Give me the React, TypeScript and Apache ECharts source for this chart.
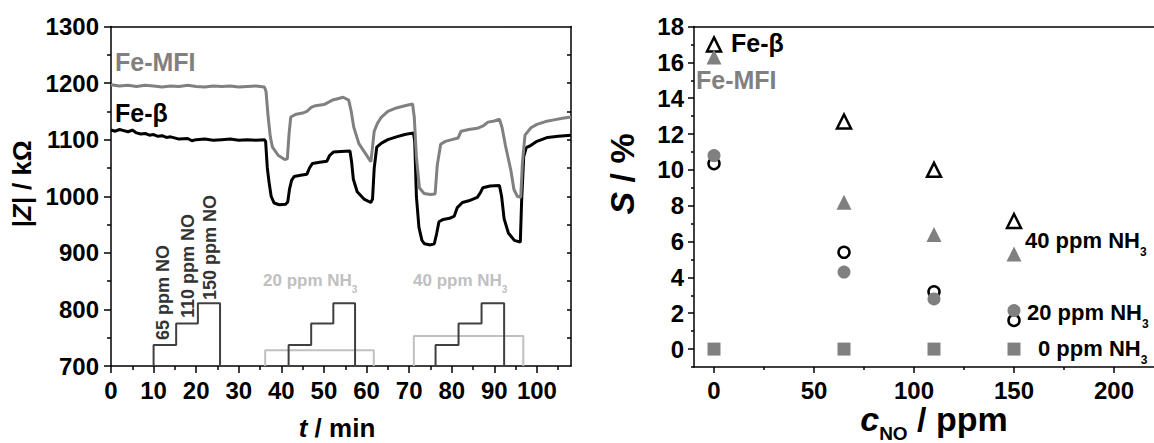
import React, { useEffect, useRef } from "react";
import * as echarts from "echarts";

const FAM = "'Liberation Sans', Arial, sans-serif";

// ---------- left panel: impedance vs time ----------
const feMfiCurve: [number, number][] = [
  [0, 1197], [2, 1195], [4, 1196], [6, 1194], [8, 1196], [10, 1195], [12, 1193], [14, 1195],
  [16, 1194], [18, 1196], [20, 1194], [22, 1193], [24, 1195], [26, 1194], [28, 1195], [30, 1193],
  [32, 1194], [34, 1195], [36, 1193], [36.4, 1185], [36.9, 1140], [37.4, 1105], [37.9, 1087],
  [39.3, 1072], [40.8, 1065], [41.4, 1066], [41.8, 1110], [42.2, 1140], [43.5, 1145], [45, 1147],
  [46, 1150], [47, 1157], [48, 1160], [50, 1162], [51, 1166], [52, 1170], [53, 1172], [54.5, 1175],
  [55.8, 1170], [56.4, 1150], [57, 1122], [58.2, 1093], [59.8, 1075], [61, 1061], [61.3, 1080],
  [61.8, 1115], [62.5, 1128], [63.5, 1140], [65, 1150], [67, 1156], [69, 1160], [70.8, 1163],
  [71.2, 1140], [71.7, 1070], [72.4, 1015], [73.5, 1005], [75, 1003], [76.1, 1004], [76.6, 1055],
  [77.4, 1092], [78.5, 1097], [80, 1100], [81.5, 1103], [82.2, 1115], [84, 1118], [86, 1120],
  [87.5, 1125], [88.5, 1131], [90, 1133], [91.2, 1136], [91.8, 1122], [92.6, 1090], [93.9, 1045],
  [94.6, 1012], [95.4, 1000], [96.2, 998], [96.6, 1060], [97.2, 1108], [98.6, 1121], [100, 1127],
  [102, 1132], [104, 1135], [106, 1138], [108, 1140],
];

const feBetaCurve: [number, number][] = [
  [0, 1117], [1, 1115], [2, 1118], [3, 1116], [4, 1114], [5, 1117], [6, 1112], [7, 1110],
  [8, 1111], [9, 1108], [10, 1109], [11, 1106], [12, 1107], [13, 1104], [14, 1105], [16, 1101],
  [18, 1102], [19, 1098], [20, 1100], [22, 1101], [24, 1099], [26, 1100], [28, 1101], [30, 1099],
  [32, 1100], [34, 1099], [36, 1100], [36.3, 1097], [36.7, 1050], [37.1, 1025], [37.6, 1000],
  [38.3, 988], [39.5, 985], [41, 986], [41.5, 990], [41.9, 1012], [42.4, 1028], [43, 1035],
  [44.5, 1037], [46, 1039], [46.6, 1050], [47.3, 1058], [49, 1060], [50.7, 1062], [51.3, 1072],
  [52.2, 1078], [54, 1079], [56.1, 1080], [56.5, 1060], [56.9, 1030], [57.8, 1008], [59.4, 995],
  [61, 989], [61.4, 995], [61.8, 1050], [62.4, 1087], [63.5, 1094], [65, 1100], [67, 1105],
  [69, 1109], [71, 1112], [71.3, 1098], [71.7, 1000], [72.3, 945], [73, 922], [73.6, 916],
  [75, 914], [75.9, 916], [76.4, 932], [77, 955], [78, 959], [79.5, 961], [80.6, 965], [81.3, 980],
  [82.5, 989], [84, 992], [86, 998], [86.7, 1006], [87.3, 1015], [89, 1018], [91.2, 1019],
  [91.7, 1000], [92.3, 960], [93.3, 935], [94.7, 922], [96.1, 919], [96.4, 990], [96.9, 1070],
  [97.5, 1086], [98.6, 1090], [100, 1097], [102.5, 1104], [105, 1106], [108, 1108],
];

const profileBase = 700;
const noLevels = [737, 775, 811];
const noPulse1 = [10, 15.3, 20.4, 25.6];
const noPulse2 = [41.7, 47, 52.2, 57.3];
const noPulse3 = [76.2, 81.6, 87, 92.3];
const nh3Level20 = 728;
const nh3Pulse20 = [36.2, 61.7];
const nh3Level40 = 753;
const nh3Pulse40 = [71.1, 96.8];

const tTicks = [0, 10, 20, 30, 40, 50, 60, 70, 80, 90, 100];
const tMinor = [5, 15, 25, 35, 45, 55, 65, 75, 85, 95, 105];
const zTicks = [700, 800, 900, 1000, 1100, 1200, 1300];
const zMinor = [750, 850, 950, 1050, 1150, 1250];
const zAll = [750, 800, 850, 900, 950, 1000, 1050, 1100, 1150, 1200, 1250];

// ---------- right panel: sensitivity vs NO ----------
const cNo = [0, 65, 110, 150];
const feBeta40 = [17.0, 12.7, 10.0, 7.15];
const feBeta20 = [10.35, 5.4, 3.2, 1.6];
const feBeta0 = [0, 0, 0, 0];
const feMfi40 = [16.3, 8.2, 6.4, 5.3];
const feMfi20 = [10.8, 4.3, 2.8, 2.15];
const feMfi0 = [0, 0, 0, 0];

const cTicks = [0, 50, 100, 150, 200];
const cMinor = [25, 75, 125, 175];
const sTicks = [0, 2, 4, 6, 8, 10, 12, 14, 16, 18];
const sMinor = [-1, 1, 3, 5, 7, 9, 11, 13, 15, 17];

const GRAY = "#808080";
const DARK = "#404040";
const LIGHT = "#c0c0c0";

function staircase(times: number[], levels: number[]): [number, number][] {
  const pts: [number, number][] = [[times[0], profileBase]];
  levels.forEach((lv, i) => {
    pts.push([times[i], lv]);
    pts.push([times[i + 1], lv]);
  });
  pts.push([times[times.length - 1], profileBase]);
  return pts;
}

let measureCtx: CanvasRenderingContext2D | null = null;
function measure(s: string, font: string) {
  if (!measureCtx) measureCtx = document.createElement("canvas").getContext("2d");
  measureCtx!.font = font;
  return measureCtx!.measureText(s).width;
}

type Part = { t: string; it?: boolean; sub?: boolean };
function label(
  parts: Part[],
  o: { x: number; y: number; size: number; subSize?: number; subDy?: number; color: string; rot?: number; center?: boolean }
) {
  const fontOf = (p: Part) => `${p.it ? "italic " : ""}bold ${p.sub ? o.subSize || 10 : o.size}px ${FAM}`;
  const widths = parts.map((p) => measure(p.t, fontOf(p)));
  const total = widths.reduce((a, b) => a + b, 0);
  let cx = o.center ? -total / 2 : 0;
  const children = parts.map((p, i) => {
    const el = {
      type: "text",
      x: cx,
      y: p.sub ? o.subDy || 0 : 0,
      style: {
        text: p.t,
        font: fontOf(p),
        fill: o.color,
        textAlign: "left",
        textVerticalAlign: "middle",
        align: "left",
        verticalAlign: "middle",
      },
    };
    cx += widths[i];
    return el;
  });
  return { type: "group", x: o.x, y: o.y, rotation: o.rot || 0, children };
}

const fmt = (v: number) => String(v);
const tickLabel = { fontFamily: FAM, fontWeight: "bold" as const, fontSize: 24, color: "#000", formatter: fmt };
const axLine = { show: true, onZero: false, lineStyle: { color: "#000", width: 1.5 } };
const noLine = { show: false, onZero: false };
const tickStyle = { color: "#000", width: 1.5 };

export default function App() {
  const ref = useRef<HTMLDivElement>(null);
  useEffect(() => {
    document.body.style.margin = "0";
    const chart = echarts.init(ref.current!, undefined, { renderer: "svg" });

    const lineSeries = (data: [number, number][], color: string, width: number, z = 2) => ({
      type: "line",
      xAxisIndex: 0,
      yAxisIndex: 0,
      data,
      showSymbol: false,
      symbol: "none",
      lineStyle: { color, width },
      z,
      silent: true,
    });

    const scatter = (
      vals: number[],
      symbol: string,
      size: number,
      fill: string,
      border: string,
      bw: number,
      z: number
    ) => ({
      type: "scatter",
      xAxisIndex: 3,
      yAxisIndex: 3,
      data: cNo.map((c, i) => [c, vals[i]]),
      symbol,
      symbolSize: size,
      itemStyle: { color: fill, borderColor: border, borderWidth: bw, opacity: 1 },
      z,
      silent: true,
    });

    chart.setOption({
      animation: false,
      backgroundColor: "#fff",
      grid: [
        { left: 111, top: 26.5, width: 460, height: 339.5 },
        { left: 694, top: 26.5, width: 462, height: 340.5 },
      ],
      xAxis: [
        {
          gridIndex: 0, type: "value", min: 0, max: 108, position: "bottom",
          axisLine: axLine, splitLine: { show: false },
          axisTick: { show: true, length: 7, customValues: tTicks, lineStyle: tickStyle },
          axisLabel: { ...tickLabel, margin: 12, customValues: tTicks },
        },
        {
          gridIndex: 0, type: "value", min: 0, max: 108, position: "bottom",
          axisLine: noLine, splitLine: { show: false },
          axisTick: { show: true, length: 4, customValues: tMinor, lineStyle: tickStyle },
          axisLabel: { show: false },
        },
        {
          gridIndex: 0, type: "value", min: 0, max: 108, position: "top",
          axisLine: axLine, splitLine: { show: false }, axisTick: { show: false }, axisLabel: { show: false },
        },
        {
          gridIndex: 1, type: "value", min: -10, max: 220, position: "bottom",
          axisLine: axLine, splitLine: { show: false },
          axisTick: { show: true, length: 6, customValues: cTicks, lineStyle: tickStyle },
          axisLabel: { ...tickLabel, margin: 11, customValues: cTicks },
        },
        {
          gridIndex: 1, type: "value", min: -10, max: 220, position: "bottom",
          axisLine: noLine, splitLine: { show: false },
          axisTick: { show: true, length: 3, customValues: cMinor, lineStyle: tickStyle },
          axisLabel: { show: false },
        },
        {
          gridIndex: 1, type: "value", min: -10, max: 220, position: "top",
          axisLine: axLine, splitLine: { show: false }, axisTick: { show: false }, axisLabel: { show: false },
        },
      ],
      yAxis: [
        {
          gridIndex: 0, type: "value", min: 700, max: 1300, position: "left",
          axisLine: axLine, splitLine: { show: false },
          axisTick: { show: true, length: 7, customValues: zTicks, lineStyle: tickStyle },
          axisLabel: { ...tickLabel, margin: 12, customValues: zTicks },
        },
        {
          gridIndex: 0, type: "value", min: 700, max: 1300, position: "left",
          axisLine: noLine, splitLine: { show: false },
          axisTick: { show: true, length: 4, customValues: zMinor, lineStyle: tickStyle },
          axisLabel: { show: false },
        },
        {
          gridIndex: 0, type: "value", min: 700, max: 1300, position: "right",
          axisLine: axLine, splitLine: { show: false },
          axisTick: { show: true, inside: true, length: 4, customValues: zAll, lineStyle: tickStyle },
          axisLabel: { show: false },
        },
        {
          gridIndex: 1, type: "value", min: -1, max: 18, position: "left",
          axisLine: axLine, splitLine: { show: false },
          axisTick: { show: true, length: 6, customValues: sTicks, lineStyle: tickStyle },
          axisLabel: { ...tickLabel, margin: 10, customValues: sTicks },
        },
        {
          gridIndex: 1, type: "value", min: -1, max: 18, position: "left",
          axisLine: noLine, splitLine: { show: false },
          axisTick: { show: true, length: 3, customValues: sMinor, lineStyle: tickStyle },
          axisLabel: { show: false },
        },
      ],
      series: [
        lineSeries(staircase(nh3Pulse20, [nh3Level20]), LIGHT, 2),
        lineSeries(staircase(nh3Pulse40, [nh3Level40]), LIGHT, 2),
        lineSeries(staircase(noPulse1, noLevels), DARK, 2, 3),
        lineSeries(staircase(noPulse2, noLevels), DARK, 2, 3),
        lineSeries(staircase(noPulse3, noLevels), DARK, 2, 3),
        lineSeries(feBetaCurve, "#000", 3, 4),
        lineSeries(feMfiCurve, GRAY, 3, 5),
        scatter(feBeta0, "rect", 9, "#fff", "#000", 2, 2),
        scatter(feBeta40, "triangle", 14, "#fff", "#000", 2.5, 3),
        scatter(feBeta20, "circle", 11, "#fff", "#000", 2.5, 3),
        scatter(feMfi0, "rect", 13, GRAY, GRAY, 0, 5),
        scatter(feMfi40, "triangle", 15, GRAY, GRAY, 0, 5),
        scatter(feMfi20, "circle", 13, GRAY, GRAY, 0, 5),
      ],
      graphic: [
        // left panel annotations
        label([{ t: "Fe-MFI" }], { x: 115, y: 62, size: 25, color: GRAY }),
        label([{ t: "Fe-β" }], { x: 115, y: 113, size: 25, color: "#000" }),
        label([{ t: "65 ppm NO" }], { x: 163, y: 340, size: 18, color: "#333", rot: Math.PI / 2 }),
        label([{ t: "110 ppm NO" }], { x: 188, y: 318, size: 18, color: "#333", rot: Math.PI / 2 }),
        label([{ t: "150 ppm NO" }], { x: 210, y: 300, size: 18, color: "#333", rot: Math.PI / 2 }),
        label([{ t: "20 ppm NH" }, { t: "3", sub: true }], { x: 263, y: 280, size: 17, subSize: 10, subDy: 9, color: LIGHT }),
        label([{ t: "40 ppm NH" }, { t: "3", sub: true }], { x: 413, y: 280, size: 17, subSize: 10, subDy: 9, color: LIGHT }),
        // left axis titles
        label([{ t: "|Z|", it: true }, { t: " / kΩ" }], { x: 22, y: 184, size: 26, color: "#000", rot: Math.PI / 2, center: true }),
        label([{ t: "t", it: true }, { t: " / min" }], { x: 337, y: 428, size: 26, color: "#000", center: true }),
        // right panel annotations
        label([{ t: "Fe-β" }], { x: 731, y: 43, size: 25, color: "#000" }),
        label([{ t: "Fe-MFI" }], { x: 696, y: 80, size: 25, color: GRAY }),
        label([{ t: "40 ppm NH" }, { t: "3", sub: true }], { x: 1025, y: 240, size: 22, subSize: 12, subDy: 12, color: "#000" }),
        label([{ t: "20 ppm NH" }, { t: "3", sub: true }], { x: 1027, y: 312, size: 22, subSize: 12, subDy: 12, color: "#000" }),
        label([{ t: "0 ppm NH" }, { t: "3", sub: true }], { x: 1038, y: 348, size: 22, subSize: 12, subDy: 12, color: "#000" }),
        // right axis titles
        label([{ t: "S", it: true }, { t: " / %" }], { x: 622, y: 174, size: 34, color: "#000", rot: Math.PI / 2, center: true }),
        label([{ t: "c", it: true }, { t: "NO", sub: true }, { t: " / ppm" }], { x: 934, y: 419, size: 34, subSize: 19, subDy: 14, color: "#000", center: true }),
      ],
    });
    return () => chart.dispose();
  }, []);
  return <div ref={ref} style={{ position: "absolute", left: 0, top: 0, width: 1154, height: 443 }} />;
}
